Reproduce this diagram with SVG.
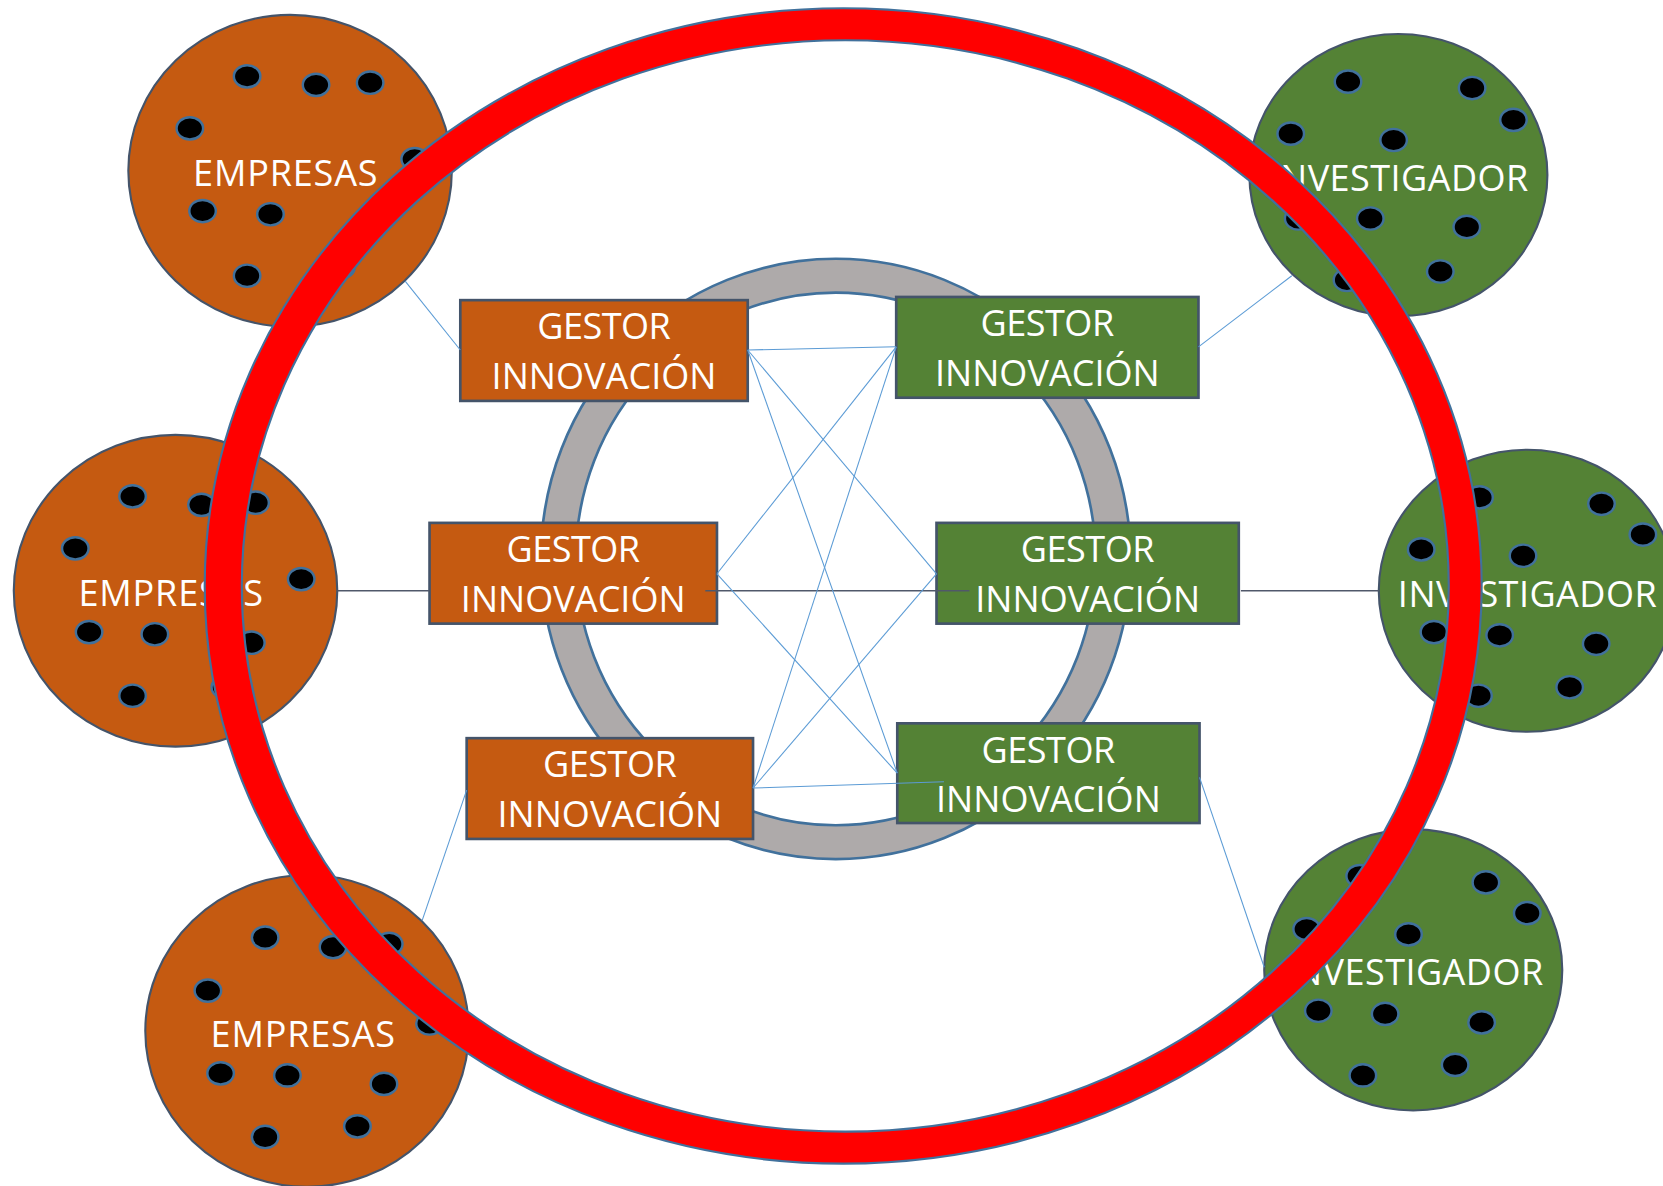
<svg xmlns="http://www.w3.org/2000/svg" width="1663" height="1186" viewBox="0 0 1663 1186">
<style>
.emp{fill:#C55A11;stroke:#44546A;stroke-width:2}
.inv{fill:#548235;stroke:#44546A;stroke-width:2}
.dot{fill:#000;stroke:#41719C;stroke-width:2.3}
.lbl{font-family:"Open Sans","Noto Sans","DejaVu Sans",sans-serif;fill:#fff;font-size:34px;text-anchor:middle}
.bo{fill:#C55A11;stroke:#44546A;stroke-width:2.5}
.bg{fill:#548235;stroke:#44546A;stroke-width:2.5}
.c{stroke:#5B9BD5;stroke-width:1;fill:none}
.d{stroke:#50586A;stroke-width:1.3;fill:none}
.ring{fill:#AEAAAA;stroke:#41719C;stroke-width:2.5;fill-rule:evenodd}
.red{fill:#FF0000;stroke:#41719C;stroke-width:2;fill-rule:evenodd}
</style>
<rect width="1663" height="1186" fill="#fff"/>
<g transform="scale(1.0606)">
<g id="empresas1">
<ellipse class="emp" cx="273.5" cy="161" rx="152.5" ry="147"/>
<ellipse class="dot" cx="233" cy="72" rx="12.5" ry="10.5"/>
<ellipse class="dot" cx="298" cy="80" rx="12.5" ry="10.5"/>
<ellipse class="dot" cx="349" cy="78" rx="12.5" ry="10.5"/>
<ellipse class="dot" cx="179" cy="121" rx="12.5" ry="10.5"/>
<ellipse class="dot" cx="391" cy="150" rx="12.5" ry="10.5"/>
<ellipse class="dot" cx="191" cy="199" rx="12.5" ry="10.5"/>
<ellipse class="dot" cx="255" cy="202" rx="12.5" ry="10.5"/>
<ellipse class="dot" cx="233" cy="260" rx="12.5" ry="10.5"/>
<ellipse class="dot" cx="322" cy="252" rx="12.5" ry="10.5"/>
<text class="lbl" x="269" y="175" textLength="174">EMPRESAS</text>
</g>
<g id="empresas2">
<ellipse class="emp" cx="165.5" cy="557" rx="152.5" ry="147"/>
<ellipse class="dot" cx="125" cy="468" rx="12.5" ry="10.5"/>
<ellipse class="dot" cx="190" cy="476" rx="12.5" ry="10.5"/>
<ellipse class="dot" cx="241" cy="474" rx="12.5" ry="10.5"/>
<ellipse class="dot" cx="71" cy="517" rx="12.5" ry="10.5"/>
<ellipse class="dot" cx="284" cy="546" rx="12.5" ry="10.5"/>
<ellipse class="dot" cx="84" cy="596" rx="12.5" ry="10.5"/>
<ellipse class="dot" cx="146" cy="598" rx="12.5" ry="10.5"/>
<ellipse class="dot" cx="237" cy="606" rx="12.5" ry="10.5"/>
<ellipse class="dot" cx="125" cy="656" rx="12.5" ry="10.5"/>
<ellipse class="dot" cx="212" cy="648" rx="12.5" ry="10.5"/>
<text class="lbl" x="161" y="571" textLength="174">EMPRESAS</text>
</g>
<g id="empresas3">
<ellipse class="emp" cx="289.5" cy="972" rx="152.5" ry="147"/>
<ellipse class="dot" cx="250" cy="884" rx="12.5" ry="10.5"/>
<ellipse class="dot" cx="314" cy="893" rx="12.5" ry="10.5"/>
<ellipse class="dot" cx="367" cy="890" rx="12.5" ry="10.5"/>
<ellipse class="dot" cx="196" cy="934" rx="12.5" ry="10.5"/>
<ellipse class="dot" cx="405" cy="965" rx="12.5" ry="10.5"/>
<ellipse class="dot" cx="208" cy="1012" rx="12.5" ry="10.5"/>
<ellipse class="dot" cx="271" cy="1014" rx="12.5" ry="10.5"/>
<ellipse class="dot" cx="362" cy="1022" rx="12.5" ry="10.5"/>
<ellipse class="dot" cx="250" cy="1072" rx="12.5" ry="10.5"/>
<ellipse class="dot" cx="337" cy="1062" rx="12.5" ry="10.5"/>
<text class="lbl" x="285.5" y="987" textLength="174">EMPRESAS</text>
</g>
<g id="investigador1">
<ellipse class="inv" cx="1318.5" cy="165" rx="140.5" ry="133"/>
<ellipse class="dot" cx="1271" cy="77" rx="12.5" ry="10.5"/>
<ellipse class="dot" cx="1388" cy="83" rx="12.5" ry="10.5"/>
<ellipse class="dot" cx="1427" cy="113" rx="12.5" ry="10.5"/>
<ellipse class="dot" cx="1217" cy="126" rx="12.5" ry="10.5"/>
<ellipse class="dot" cx="1314" cy="132" rx="12.5" ry="10.5"/>
<ellipse class="dot" cx="1224" cy="206" rx="12.5" ry="10.5"/>
<ellipse class="dot" cx="1292" cy="206" rx="12.5" ry="10.5"/>
<ellipse class="dot" cx="1383" cy="214" rx="12.5" ry="10.5"/>
<ellipse class="dot" cx="1270" cy="264" rx="12.5" ry="10.5"/>
<ellipse class="dot" cx="1358" cy="256" rx="12.5" ry="10.5"/>
<text class="lbl" x="1319" y="180" textLength="244">INVESTIGADOR</text>
</g>
<g id="investigador2">
<ellipse class="inv" cx="1440" cy="557" rx="140" ry="133"/>
<ellipse class="dot" cx="1395" cy="469" rx="12.5" ry="10.5"/>
<ellipse class="dot" cx="1510" cy="475" rx="12.5" ry="10.5"/>
<ellipse class="dot" cx="1549" cy="504" rx="12.5" ry="10.5"/>
<ellipse class="dot" cx="1340" cy="518" rx="12.5" ry="10.5"/>
<ellipse class="dot" cx="1436" cy="524" rx="12.5" ry="10.5"/>
<ellipse class="dot" cx="1352" cy="596" rx="12.5" ry="10.5"/>
<ellipse class="dot" cx="1414" cy="599" rx="12.5" ry="10.5"/>
<ellipse class="dot" cx="1505" cy="607" rx="12.5" ry="10.5"/>
<ellipse class="dot" cx="1480" cy="648" rx="12.5" ry="10.5"/>
<ellipse class="dot" cx="1394" cy="656" rx="12.5" ry="10.5"/>
<text class="lbl" x="1440" y="572" textLength="244">INVESTIGADOR</text>
</g>
<g id="investigador3">
<ellipse class="inv" cx="1332.5" cy="914.5" rx="140.5" ry="132.5"/>
<ellipse class="dot" cx="1282" cy="826" rx="12.5" ry="10.5"/>
<ellipse class="dot" cx="1401" cy="832" rx="12.5" ry="10.5"/>
<ellipse class="dot" cx="1440" cy="861" rx="12.5" ry="10.5"/>
<ellipse class="dot" cx="1232" cy="876" rx="12.5" ry="10.5"/>
<ellipse class="dot" cx="1328" cy="881" rx="12.5" ry="10.5"/>
<ellipse class="dot" cx="1243" cy="953" rx="12.5" ry="10.5"/>
<ellipse class="dot" cx="1306" cy="956" rx="12.5" ry="10.5"/>
<ellipse class="dot" cx="1397" cy="964" rx="12.5" ry="10.5"/>
<ellipse class="dot" cx="1285" cy="1014" rx="12.5" ry="10.5"/>
<ellipse class="dot" cx="1372" cy="1004" rx="12.5" ry="10.5"/>
<text class="lbl" x="1333" y="929" textLength="244">INVESTIGADOR</text>
</g>
<g id="gray-ring">
<path class="ring" d="M510,527 a278,283 0 1,0 556,0 a278,283 0 1,0 -556,0 Z M543,527 a245,251 0 1,0 490,0 a245,251 0 1,0 -490,0 Z"/>
</g>
<g id="gestor-o1">
<rect class="bo" x="434" y="283" width="271" height="95"/>
<text class="lbl" x="569.5" y="320" textLength="126">GESTOR</text>
<text class="lbl" x="569.5" y="367" textLength="212">INNOVACIÓN</text>
</g>
<g id="gestor-o2">
<rect class="bo" x="405" y="493" width="271" height="95"/>
<text class="lbl" x="540.5" y="530" textLength="126">GESTOR</text>
<text class="lbl" x="540.5" y="577" textLength="212">INNOVACIÓN</text>
</g>
<g id="gestor-o3">
<rect class="bo" x="440" y="696" width="270" height="95"/>
<text class="lbl" x="575" y="733" textLength="126">GESTOR</text>
<text class="lbl" x="575" y="780" textLength="212">INNOVACIÓN</text>
</g>
<g id="gestor-g1">
<rect class="bg" x="845" y="280" width="285" height="95"/>
<text class="lbl" x="987.5" y="317" textLength="126">GESTOR</text>
<text class="lbl" x="987.5" y="364" textLength="212">INNOVACIÓN</text>
</g>
<g id="gestor-g2">
<rect class="bg" x="883" y="493" width="285" height="95"/>
<text class="lbl" x="1025.5" y="530" textLength="126">GESTOR</text>
<text class="lbl" x="1025.5" y="577" textLength="212">INNOVACIÓN</text>
</g>
<g id="gestor-g3">
<rect class="bg" x="846" y="682" width="285" height="94"/>
<text class="lbl" x="988.5" y="719" textLength="126">GESTOR</text>
<text class="lbl" x="988.5" y="766" textLength="212">INNOVACIÓN</text>
</g>
<g id="connectors">
<line class="c" x1="382" y1="265" x2="434" y2="330"/>
<line class="c" x1="1130" y1="327" x2="1218" y2="260"/>
<line class="c" x1="440" y1="745" x2="398" y2="868"/>
<line class="c" x1="1131" y1="733" x2="1192" y2="912"/>
<line class="d" x1="318" y1="557" x2="405" y2="557"/>
<line class="d" x1="1170" y1="557" x2="1300" y2="557"/>
<line class="d" x1="665" y1="557" x2="914" y2="557"/>
<line class="c" x1="705" y1="330" x2="845" y2="327"/>
<line class="c" x1="705" y1="330" x2="883" y2="541"/>
<line class="c" x1="705" y1="330" x2="846" y2="729"/>
<line class="c" x1="676" y1="541" x2="845" y2="327"/>
<line class="c" x1="676" y1="541" x2="846" y2="729"/>
<line class="c" x1="710" y1="743" x2="845" y2="327"/>
<line class="c" x1="710" y1="743" x2="883" y2="541"/>
<line class="c" x1="710" y1="743" x2="890" y2="737"/>
</g>
<g id="red-ring">
<path class="red" d="M193,552.5 a602,544.5 0 1,0 1204,0 a602,544.5 0 1,0 -1204,0 Z M228,552.5 a569,514.5 0 1,0 1138,0 a569,514.5 0 1,0 -1138,0 Z"/>
</g>
</g>
</svg>
